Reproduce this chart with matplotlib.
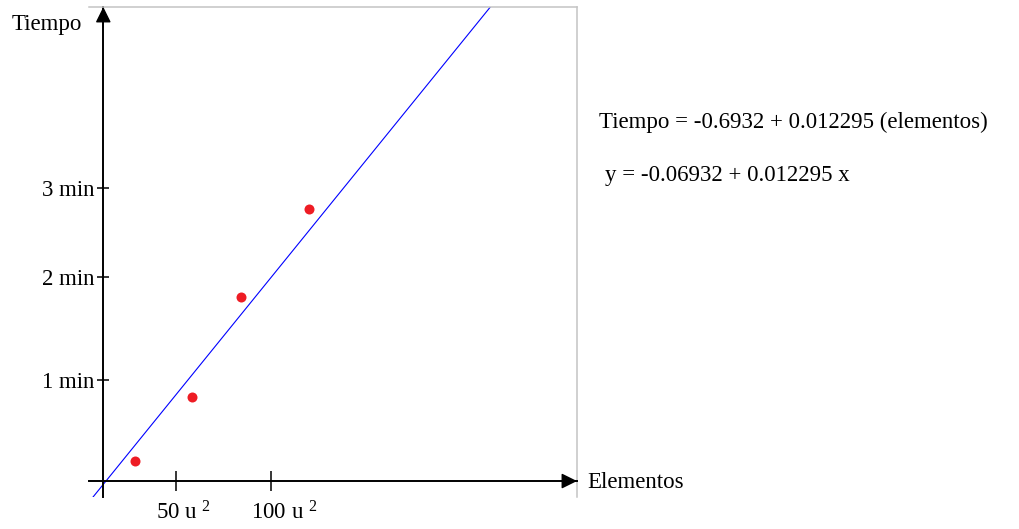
import numpy as np
import matplotlib
matplotlib.use("Agg")
import matplotlib.pyplot as plt
from matplotlib.transforms import ScaledTranslation

# === DATA ===
elementos = [28.6, 58.6, 84.2, 120.2]
tiempo = [0.201, 0.829, 1.822, 2.693]

# fitted line as drawn in the picture
fit_intercept = -0.305
fit_slope = 0.0232

xtick_vals = [50, 100]
xtick_labels = ["50 u $^{2}$", "100 u $^{2}$"]
ytick_vals = [1.0, 2.023, 2.898]
ytick_labels = ["1 min", "2 min", "3 min"]

eq_tiempo = "Tiempo = -0.6932 + 0.012295 (elementos)"
eq_y = "y = -0.06932 + 0.012295 x"

# === STYLE ===
plt.rcParams["font.family"] = ["Liberation Serif", "DejaVu Serif"]
plt.rcParams["mathtext.fontset"] = "custom"
plt.rcParams["mathtext.rm"] = "Liberation Serif"
plt.rcParams["mathtext.it"] = "Liberation Serif:italic"
FS = 16.5

W, H = 1019, 529
fig = plt.figure(figsize=(W / 100, H / 100), dpi=100)
ax = fig.add_axes([89 / W, (H - 497) / H, (577 - 89) / W, (497 - 7) / H])

xmin, xmax = 4.21, 261.05
ymin, ymax = -0.158, 4.693
yaxis_x = 11.74
ax.set_xlim(xmin, xmax)
ax.set_ylim(ymin, ymax)

# frame: grey top/right, black axes through the origin
for side in ["top", "right"]:
    ax.spines[side].set_color("#c4c4c4")
    ax.spines[side].set_linewidth(1.1)
ax.spines["left"].set_position(("data", yaxis_x))
ax.spines["bottom"].set_position(("data", 0))
for side in ["left", "bottom"]:
    ax.spines[side].set_linewidth(1.4)
    ax.spines[side].set_color("black")

# arrow heads
head = dict(arrowstyle="-|>,head_length=0.95,head_width=0.47", mutation_scale=10,
            color="black", lw=1.0, shrinkA=0, shrinkB=0)
ax.annotate("", xy=(yaxis_x, ymax), xytext=(yaxis_x, ymax - 0.2),
            arrowprops=head, annotation_clip=False)
ax.annotate("", xy=(xmax, 0), xytext=(xmax - 8, 0),
            arrowprops=head, annotation_clip=False)

# ticks
ax.set_xticks(xtick_vals)
ax.set_xticklabels(xtick_labels, fontsize=FS)
ax.set_yticks(ytick_vals)
ax.set_yticklabels(ytick_labels, fontsize=FS)
ax.tick_params(axis="x", direction="inout", length=13.7, width=1.1, pad=8)
ax.tick_params(axis="y", direction="inout", length=8.5, width=1.1, pad=2)
shift = ScaledTranslation(-20 / 100, 0, fig.dpi_scale_trans)
for lbl in ax.get_xticklabels():
    lbl.set_horizontalalignment("left")
    lbl.set_transform(lbl.get_transform() + shift)

# fitted line and measured points
line_x = np.array([0, xmax])
ax.plot(line_x, fit_intercept + fit_slope * line_x, color="#0000ff", lw=0.8)
ax.plot(elementos, tiempo, "o", color="#ee1c24", markersize=7.2, markeredgewidth=0)

# texts
fig.text(12 / W, 1 - 30 / H, "Tiempo", fontsize=FS, va="baseline")
fig.text(587 / W, 1 - 488 / H, "Elementos", fontsize=FS, va="baseline")
fig.text(599 / W, 1 - 128 / H, eq_tiempo, fontsize=FS, va="baseline")
fig.text(605 / W, 1 - 181 / H, eq_y, fontsize=FS, va="baseline")

fig.savefig("out.png", dpi=100)
